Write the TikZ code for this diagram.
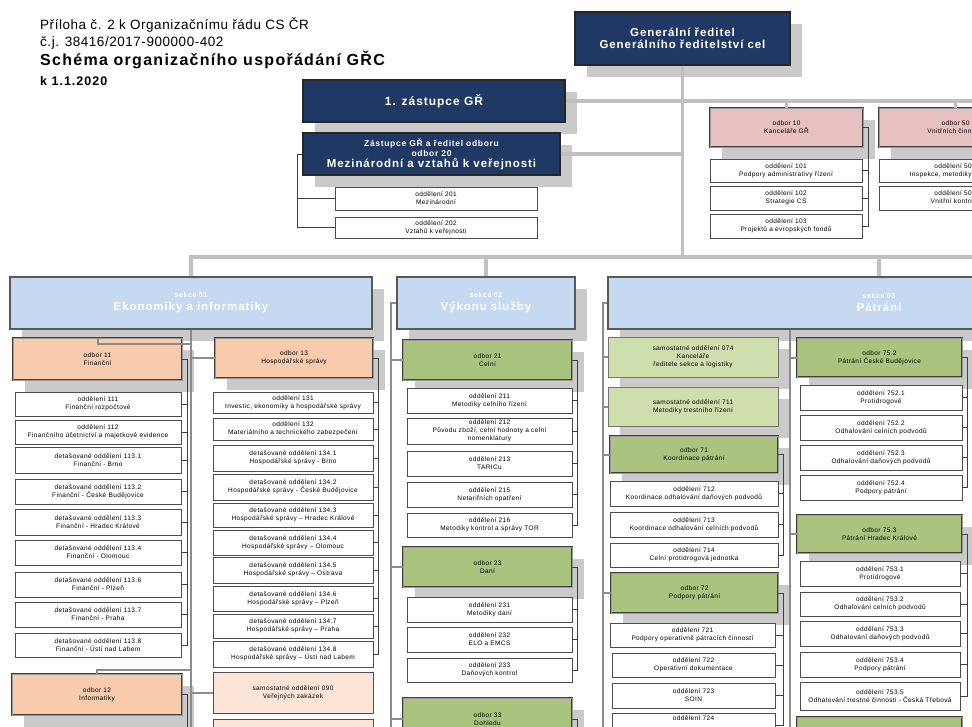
\documentclass[tikz,border=0pt]{standalone}
\usepackage{fontspec}
\setmainfont{Liberation Sans}
\newfontfamily\boxfont[LetterSpace=6]{Liberation Sans}
\newfontfamily\wide[LetterSpace=8]{Liberation Sans}
\newfontfamily\halfwide[LetterSpace=4]{Liberation Sans}
\usetikzlibrary{shadows,calc}

\definecolor{navy}{RGB}{31,56,100}
\definecolor{sekblue}{RGB}{197,217,241}
\definecolor{salmon}{RGB}{248,203,173}
\definecolor{peach}{RGB}{252,228,214}
\definecolor{rosy}{RGB}{232,192,191}
\definecolor{olive}{RGB}{170,196,128}
\definecolor{lolive}{RGB}{206,222,172}
\definecolor{shadegray}{RGB}{202,202,202}
\definecolor{busgray}{RGB}{192,192,192}

\newcommand{\sm}{\boxfont\fontsize{6.5}{7.8}\selectfont}
% box from corner (x1,y1) to (x2,y2), y counted downward
\newcommand{\orgbox}[7]{\node[#2, minimum width={#5-#3}, minimum height={#6-#4}] (#1) at ({(#3+#5)/2},{(#4+#6)/2}) {#7};}
% bracket on the right side of a parent and its units
\newcommand{\rbrk}[3]{\draw[brk] (#1.east) -- ++(5,0) coordinate (bk) |- (#2.east);
  \foreach \c in {#3} {\draw[brk] (\c.east) -- (\c.east -| bk);}}

\tikzset{
  every node/.style={inner sep=0pt, align=center},
  boxshade/.style={drop shadow={shadow xshift=12pt, shadow yshift=-12pt, fill=shadegray, opacity=1}},
  lead/.style={fill=navy, draw=black!85, line width=1.4, text=white, boxshade},
  sekce/.style={fill=sekblue, draw=black!65, line width=1.6, text=white, boxshade,
    font=\wide\bfseries\fontsize{11.5}{13}\selectfont},
  odb/.style={draw=black!75, double=black!40, double distance=0.7pt, line width=0.7pt, boxshade, font=\sm},
  sam/.style={fill=lolive, draw=black!55, line width=0.8, boxshade, font=\sm},
  odd/.style={fill=white, draw=black!70, line width=0.7, font=\sm},
  bus/.style={draw=busgray, line width=3.5},
  spine/.style={draw=black!45, line width=2},
  brk/.style={draw=black!75, line width=0.9},
  hdr/.style={anchor=base west, font=\halfwide\fontsize{13.5}{15}\selectfont}
}

\begin{document}
\begin{tikzpicture}[x=1pt, y=-1pt]
\useasboundingbox (0,0) rectangle (972,726);
\clip (0,0) rectangle (972,726);

% title
\node[hdr] (t1) at (40,29.5) {Příloha č. 2 k Organizačnímu řádu CS ČR};
\node[hdr] (t2) at (40,46) {č.j. 38416/2017-900000-402};
\node[hdr, font=\wide\bfseries\fontsize{16}{18}\selectfont] (t3) at (40,65) {Schéma organizačního uspořádání GŘC};
\node[hdr, font=\wide\bfseries\fontsize{12.5}{14}\selectfont] (t4) at (40,85) {k 1.1.2020};

% management
\orgbox{gr}{lead, font=\wide\bfseries\fontsize{11.5}{12}\selectfont}{575}{12}{790}{65}{Generální ředitel\\Generálního ředitelství cel}
\orgbox{z1}{lead, font=\wide\bfseries\fontsize{12}{13}\selectfont}{303}{80}{565}{122}{1. zástupce GŘ}
\orgbox{z20}{lead, font=\wide\bfseries\fontsize{8.5}{10.5}\selectfont}{303}{133}{560}{175}{Zástupce GŘ a ředitel odboru\\odbor 20\\{\fontsize{11.5}{12}\selectfont Mezinárodní a vztahů k veřejnosti}}
\orgbox{d201}{odd}{335}{187}{537}{210}{oddělení 201\\Mezinárodní}
\orgbox{d202}{odd}{335}{217}{537}{238}{oddělení 202\\Vztahů k veřejnosti}

\orgbox{o10}{odb, fill=rosy}{710}{108}{863}{147}{odbor 10\\Kanceláře GŘ}
\orgbox{d101}{odd}{710}{159}{862}{182}{oddělení 101\\Podpory administrativy řízení}
\orgbox{d102}{odd}{710}{186}{862}{210}{oddělení 102\\Strategie CS}
\orgbox{d103}{odd}{710}{214}{862}{238}{oddělení 103\\Projektů a evropských fondů}
\orgbox{o50}{odb, fill=rosy}{879}{108}{1032}{147}{odbor 50\\Vnitřních činností}
\orgbox{d501}{odd}{879}{159}{1031}{182}{oddělení 501\\Inspekce, metodiky a analýz}
\orgbox{d502}{odd}{879}{186}{1031}{210}{oddělení 502\\Vnitřní kontroly}

% sections
\orgbox{s01}{sekce}{10}{277}{372}{329}{{\fontsize{7}{8.5}\selectfont sekce 01}\\Ekonomiky a informatiky}
\orgbox{s02}{sekce}{397}{277}{575}{329}{{\fontsize{7}{8.5}\selectfont sekce 02}\\Výkonu služby}
\orgbox{s03}{sekce}{608}{277}{1150}{329}{{\fontsize{7}{8.5}\selectfont sekce 03}\\Pátrání}

% sekce 01
\orgbox{o11}{odb, fill=salmon}{13}{338}{182}{380}{odbor 11\\Finanční}
\orgbox{d111}{odd}{15}{392}{181}{416}{oddělení 111\\Finanční rozpočtové}
\orgbox{d112}{odd}{15}{420}{181}{444}{oddělení 112\\Finančního účetnictví a majetkové evidence}
\orgbox{d1131}{odd}{15}{447}{181}{473}{detašované oddělení 113.1\\Finanční - Brno}
\orgbox{d1132}{odd}{15}{479}{181}{504}{detašované oddělení 113.2\\Finanční - České Budějovice}
\orgbox{d1133}{odd}{15}{509}{181}{535}{detašované oddělení 113.3\\Finanční - Hradec Králové}
\orgbox{d1134}{odd}{15}{540}{181}{565}{detašované oddělení 113.4\\Finanční - Olomouc}
\orgbox{d1136}{odd}{15}{572}{181}{597}{detašované oddělení 113.6\\Finanční - Plzeň}
\orgbox{d1137}{odd}{15}{602}{181}{627}{detašované oddělení 113.7\\Finanční - Praha}
\orgbox{d1138}{odd}{15}{633}{181}{657}{detašované oddělení 113.8\\Finanční - Ústí nad Labem}
\orgbox{o12}{odb, fill=salmon}{12}{674}{182}{715}{odbor 12\\Informatiky}

\orgbox{o13}{odb, fill=salmon}{215}{338}{373}{378}{odbor 13\\Hospodářské správy}
\orgbox{d131}{odd}{213}{392}{373}{413}{oddělení 131\\Investic, ekonomiky a hospodářské správy}
\orgbox{d132}{odd}{213}{418}{373}{440}{oddělení 132\\Materiálního a technického zabezpečení}
\orgbox{d1341}{odd}{213}{445}{373}{471}{detašované oddělení 134.1\\Hospodářské správy - Brno}
\orgbox{d1342}{odd}{213}{474}{373}{500}{detašované oddělení 134.2\\Hospodářské správy - České Budějovice}
\orgbox{d1343}{odd}{213}{503}{373}{527}{detašované oddělení 134.3\\Hospodářské správy – Hradec Králové}
\orgbox{d1344}{odd}{213}{530}{373}{555}{detašované oddělení 134.4\\Hospodářské správy – Olomouc}
\orgbox{d1345}{odd}{213}{557}{373}{583}{detašované oddělení 134.5\\Hospodářské správy – Ostrava}
\orgbox{d1346}{odd}{213}{586}{373}{611}{detašované oddělení 134.6\\Hospodářské správy – Plzeň}
\orgbox{d1347}{odd}{213}{614}{373}{638}{detašované oddělení 134.7\\Hospodářské správy – Praha}
\orgbox{d1348}{odd}{213}{641}{373}{667}{detašované oddělení 134.8\\Hospodářské správy – Ústí nad Labem}
\orgbox{s090}{odd, fill=peach}{213}{672}{373}{713}{samostatné oddělení 090\\Veřejných zakázek}
\orgbox{s0xx}{odd, fill=peach}{213}{719}{373}{760}{}

% sekce 02
\orgbox{o21}{odb, fill=olive}{403}{340}{572}{380}{odbor 21\\Celní}
\orgbox{d211}{odd}{407}{388}{572}{413}{oddělení 211\\Metodiky celního řízení}
\orgbox{d212}{odd}{407}{418}{572}{444}{oddělení 212\\Původu zboží, celní hodnoty a celní\\nomenklatury}
\orgbox{d213}{odd}{407}{451}{572}{476}{oddělení 213\\TARICu}
\orgbox{d215}{odd}{407}{482}{572}{507}{oddělení 215\\Netarifních opatření}
\orgbox{d216}{odd}{407}{513}{572}{537}{oddělení 216\\Metodiky kontrol a správy TOR}
\orgbox{o23}{odb, fill=olive}{403}{547}{572}{587}{odbor 23\\Daní}
\orgbox{d231}{odd}{407}{597}{572}{622}{oddělení 231\\Metodiky daní}
\orgbox{d232}{odd}{407}{627}{572}{652}{oddělení 232\\ELO a EMCS}
\orgbox{d233}{odd}{407}{658}{572}{682}{oddělení 233\\Daňových kontrol}
\orgbox{o33}{odb, fill=olive}{403}{698}{572}{740}{odbor 33\\Dohledu}

% sekce 03
\orgbox{s074}{sam}{608}{337}{778}{377}{samostatné oddělení 074\\Kanceláře\\ředitele sekce a logistiky}
\orgbox{s711}{sam}{608}{387}{778}{426}{samostatné oddělení 711\\Metodiky trestního řízení}
\orgbox{o71}{odb, fill=olive}{610}{436}{778}{473}{odbor 71\\Koordinace pátrání}
\orgbox{d712}{odd}{610}{481}{778}{506}{oddělení 712\\Koordinace odhalování daňových podvodů}
\orgbox{d713}{odd}{610}{512}{778}{537}{oddělení 713\\Koordinace odhalování celních podvodů}
\orgbox{d714}{odd}{610}{543}{778}{567}{oddělení 714\\Celní protidrogová jednotka}
\orgbox{o72}{odb, fill=olive}{611}{573}{778}{613}{odbor 72\\Podpory pátrání}
\orgbox{d721}{odd}{610}{623}{775}{647}{oddělení 721\\Podpory operativně pátracích činností}
\orgbox{d722}{odd}{612}{653}{775}{677}{oddělení 722\\Operativní dokumentace}
\orgbox{d723}{odd}{612}{683}{775}{708}{oddělení 723\\SOIN}
\orgbox{d724}{odd}{612}{713}{775}{738}{oddělení 724\\[8pt]}

\orgbox{o752}{odb, fill=olive}{797}{338}{962}{377}{odbor 75.2\\Pátrání České Budějovice}
\orgbox{d7521}{odd}{800}{385}{962}{410}{oddělení 752.1\\Protidrogové}
\orgbox{d7522}{odd}{800}{415}{962}{440}{oddělení 752.2\\Odhalování celních podvodů}
\orgbox{d7523}{odd}{800}{445}{962}{470}{oddělení 752.3\\Odhalování daňových podvodů}
\orgbox{d7524}{odd}{800}{475}{962}{500}{oddělení 752.4\\Podpory pátrání}
\orgbox{o753}{odb, fill=olive}{797}{515}{962}{553}{odbor 75.3\\Pátrání Hradec Králové}
\orgbox{d7531}{odd}{800}{561}{960}{586}{oddělení 753.1\\Protidrogové}
\orgbox{d7532}{odd}{800}{592}{960}{616}{oddělení 753.2\\Odhalování celních podvodů}
\orgbox{d7533}{odd}{800}{621}{960}{646}{oddělení 753.3\\Odhalování daňových podvodů}
\orgbox{d7534}{odd}{800}{652}{960}{677}{oddělení 753.4\\Podpory pátrání}
\orgbox{d7535}{odd}{800}{682}{960}{710}{oddělení 753.5\\Odhalování trestné činnosti - Česká Třebová}
\orgbox{o754}{odb, fill=olive}{797}{717}{962}{760}{}

% lines
\coordinate (busB) at (0,257);
\coordinate (busE) at (990,257);
\coordinate (busR) at (990,101);
\coordinate (bottom) at (0,745);
\draw[bus] (gr.south) -- (gr.south |- busB);
\draw[bus] (z1.east) -| (o10.north);
\draw[bus] (o10.north |- z1.east) -- (busR);
\draw[bus] (o50.north) -- (o50.north |- busR);
\draw[bus] (z20.east) -- (z20.east -| gr.south);
\draw[bus] (s01.north) -- (s01.north |- busB) -- (busE);
\draw[bus] (s02.north) -- (s02.north |- busB);
\draw[bus] (s03.north) -- (s03.north |- busB);

% sekce 01
\draw[spine] (s01.south) -- (s01.south |- bottom);
\draw[spine] (s01.south) -- ++(0,14) -| (o11.north);
\draw[spine] (o12.north) -- ++(0,-4) -| (s01.south);
\draw[spine] (o13.west) -- (o13.west -| s01.south);
\draw[spine] (s090.west) -- (s090.west -| s01.south);
% sekce 02
\draw[spine] (s02.west) -- ++(-5,0) coordinate (sp2) -- (sp2 |- bottom);
\foreach \o in {o21,o23,o33} {\draw[spine] (\o.west) -- (\o.west -| sp2);}
% sekce 03
\draw[spine] (s03.west) -- ++(-4,0) coordinate (sp3) -- (sp3 |- bottom);
\foreach \o in {s074,s711,o71,o72} {\draw[spine] (\o.west) -- (\o.west -| sp3);}
\coordinate (sp4) at ($(s03.south -| o752.west)+(-7,0)$);
\draw[spine] (sp4) -- (sp4 |- bottom);
\foreach \o in {o752,o753,o754} {\draw[spine] (\o.west) -- (\o.west -| sp4);}

% brackets
\draw[brk] (z20.west) -- ++(-5,0) coordinate (bl) |- (d202.west);
\draw[brk] (d201.west) -- (d201.west -| bl);
\rbrk{o10}{d103}{d101,d102}
\rbrk{o50}{d502}{d501}
\rbrk{o11}{d1138}{d111,d112,d1131,d1132,d1133,d1134,d1136,d1137}
\rbrk{o13}{d1348}{d131,d132,d1341,d1342,d1343,d1344,d1345,d1346,d1347}
\rbrk{o21}{d216}{d211,d212,d213,d215}
\rbrk{o23}{d233}{d231,d232}
\rbrk{o71}{d714}{d712,d713}
\rbrk{o72}{d724}{d721,d722,d723}
\rbrk{o752}{d7524}{d7521,d7522,d7523}
\rbrk{o753}{d7535}{d7531,d7532,d7533,d7534}
\draw[brk] (o12.east) -- ++(5,0) coordinate (b12) -- (b12 |- bottom);
\draw[brk] (o33.east) -- ++(5,0) coordinate (b33) -- (b33 |- bottom);
\end{tikzpicture}
\end{document}
